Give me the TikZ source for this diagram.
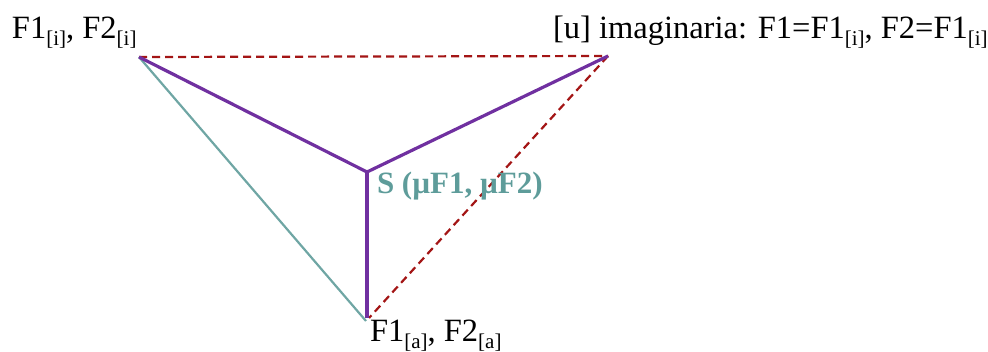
\documentclass[tikz,border=0pt]{standalone}
\usepackage{fontspec}
\setmainfont{Liberation Serif}
\definecolor{vio}{HTML}{7030A0}
\definecolor{tealx}{HTML}{6FA6A4}
\definecolor{tealtxt}{HTML}{5E9C9A}
\definecolor{dred}{HTML}{A31515}
\newcommand{\lowidx}[1]{\raisebox{-7pt}{\fontsize{21}{21}\selectfont #1}}
\tikzset{
  lbl/.style={anchor=base west, inner sep=0pt, outer sep=0pt, font=\fontsize{32.5}{36}\selectfont},
  slbl/.style={anchor=base west, inner sep=0pt, outer sep=0pt, text=tealtxt, font=\fontsize{31}{36}\selectfont\bfseries},
  vline/.style={draw=vio, line width=3.2pt},
  tline/.style={draw=tealx, line width=2.2pt},
  rdash/.style={draw=dred, line width=2.2pt, dash pattern=on 8pt off 5pt}
}
\begin{document}
\begin{tikzpicture}[x=1pt,y=-1pt]
\useasboundingbox (0,0) rectangle (988,351);
\coordinate (A) at (139,57);
\coordinate (U) at (608,56);
\coordinate (S) at (367,172);
\coordinate (B) at (366,321);
\coordinate (Bt) at (367,318);
\coordinate (Bd) at (369,318);
\draw[rdash] (A) -- (U);
\draw[rdash] (U) -- (Bd);
\draw[tline] (A) -- (B);
\draw[vline, line join=round] (A) -- (S) -- (U);
\draw[vline] (S) -- (Bt);
\node[lbl] (la) at (12,38) {F1\lowidx{[i]}, F2\lowidx{[i]}};
\node[lbl] (lu) at (553,38) {[u] imaginaria: F1=F1\lowidx{[i]}, F2=F1\lowidx{[i]}};
\node[slbl] (ls) at (377,193) {S (µF1, µF2)};
\node[lbl] (lb) at (370,341) {F1\lowidx{[a]}, F2\lowidx{[a]}};
\end{tikzpicture}
\end{document}
